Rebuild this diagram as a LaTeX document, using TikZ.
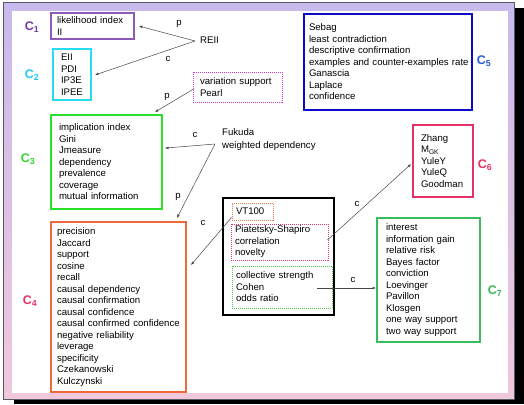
\documentclass[tikz,border=0pt]{standalone}
\usepackage{fontspec}
\setmainfont{Liberation Sans}
\usetikzlibrary{calc,arrows.meta}
\definecolor{lavtop}{RGB}{200,186,236}
\definecolor{pinkbot}{RGB}{240,200,220}
\definecolor{framegray}{RGB}{90,90,100}
\definecolor{linegray}{RGB}{70,70,70}
\definecolor{cpurple}{RGB}{140,90,185}
\definecolor{tpurple}{RGB}{115,60,160}
\definecolor{ccyan}{RGB}{40,220,240}
\definecolor{tcyan}{RGB}{30,200,245}
\definecolor{cgreen}{RGB}{40,225,40}
\definecolor{tgreen}{RGB}{50,210,50}
\definecolor{corange}{RGB}{238,105,60}
\definecolor{tred}{RGB}{228,50,100}
\definecolor{cblue}{RGB}{10,10,200}
\definecolor{tblue}{RGB}{40,90,215}
\definecolor{cgreen2}{RGB}{55,190,90}
\definecolor{tgreen2}{RGB}{55,185,85}
\definecolor{dmagenta}{RGB}{205,60,205}
\definecolor{dorange}{RGB}{232,125,70}
\definecolor{dred}{RGB}{222,55,105}
\definecolor{dgreen}{RGB}{70,205,70}
\tikzset{
  grp/.style={draw, line width=1.8pt, align=left, inner ysep=0pt,
    font=\fontsize{9.6}{11.5}\selectfont},
  sub/.style={grp, line width=0.8pt, dash pattern=on 1pt off 1pt},
  tag/.style={font=\fontsize{12.5}{14}\selectfont\bfseries, inner sep=0pt},
  lbl/.style={font=\fontsize{9.6}{11.5}\selectfont, inner sep=0pt},
  arr/.style={draw=linegray, line width=0.5pt, -{Latex[length=3.6pt,width=2.6pt]}}
}

\begin{document}
\begin{tikzpicture}[x=1pt,y=-1pt]
			%%%%% START %%%%%
			\useasboundingbox (0,0) rectangle (524,404);
			
			% frame and shadow
			\fill[black] (515,8) rectangle (524,404);
			\fill[black] (14,400) rectangle (524,404);
			\draw[draw=framegray, line width=1pt, top color=lavtop, bottom color=pinkbot] (3,3) rectangle (514,399);
			\fill[white] (12,11) rectangle (508,393);
			
			% groups
			\node[grp, draw=cpurple, line width=1.5pt, inner xsep=6pt, minimum width=83pt, minimum height=26pt, text width=71pt] (c1) at (92.5,26) {likelihood index\\II};
			\node[grp, draw=ccyan, inner xsep=8pt, minimum width=38pt, minimum height=51pt, text width=22pt] (c2) at (72,74.5) {EII\\PDI\\IP3E\\IPEE};
			\node[grp, draw=cgreen, inner xsep=8pt, minimum width=111pt, minimum height=94pt, text width=95pt] (c3) at (106.5,162) {implication index\\Gini\\Jmeasure\\dependency\\prevalence\\coverage\\mutual information};
			\node[grp, draw=corange, inner xsep=6pt, minimum width=135pt, minimum height=170pt, text width=123pt] (c4) at (118.5,307) {precision\\Jaccard\\support\\cosine\\recall\\causal dependency\\causal confirmation\\causal confidence\\causal confirmed confidence\\negative reliability\\leverage\\specificity\\Czekanowski\\Kulczynski};
			\node[grp, draw=cblue, inner xsep=5pt, minimum width=168pt, minimum height=96pt, text width=158pt] (c5) at (388,62) {Sebag\\least contradiction\\descriptive confirmation\\\mbox{examples and counter-examples rate}\\Ganascia\\Laplace\\confidence};
			\node[grp, draw=tred, inner xsep=8pt, minimum width=60pt, minimum height=72pt, text width=44pt] (c6) at (443,161) {Zhang\\M\textsubscript{GK}\\YuleY\\YuleQ\\Goodman};
			\node[grp, draw=cgreen2, inner xsep=9pt, minimum width=103pt, minimum height=124pt, text width=85pt] (c7) at (428.5,280) {interest\\information gain\\relative risk\\Bayes factor\\conviction\\Loevinger\\Pavillon\\Klosgen\\one way support\\two way support};
			
			% shared measures
			\node[sub, draw=dmagenta, inner xsep=7pt, minimum width=89pt, minimum height=30pt, text width=75pt] (pearl) at (237.5,87) {variation support\\Pearl};
			\node[draw=black, line width=2.6pt, minimum width=111pt, minimum height=117pt] (blk) at (278.5,256.5) {};
			\node[sub, draw=dorange, inner xsep=4pt, minimum width=41pt, minimum height=17pt, text width=33pt] (vt) at (252.5,211.5) {VT100};
			\node[sub, draw=dred, inner xsep=4pt, minimum width=97pt, minimum height=36pt, text width=89pt] (ps) at (279.5,242) {Piatetsky-Shapiro\\correlation\\novelty};
			\node[sub, draw=dgreen, inner xsep=4pt, minimum width=100pt, minimum height=42pt, text width=92pt] (cs) at (282,287) {collective strength\\Cohen\\odds ratio};
			
			\node[lbl, anchor=west] (reii) at (200,40) {REII};
			\node[lbl, anchor=west, align=left, font=\fontsize{9.6}{13}\selectfont] (fukuda) at (222,139.5) {Fukuda\\weighted dependency};
			
			% class tags
			\node[tag, text=tpurple] (t1) at (32,27) {C\textsubscript{1}};
			\node[tag, text=tcyan] (t2) at (32,75) {C\textsubscript{2}};
			\node[tag, text=tgreen] (t3) at (28,159) {C\textsubscript{3}};
			\node[tag, text=tred] (t4) at (30,301) {C\textsubscript{4}};
			\node[tag, text=tblue] (t5) at (484,61) {C\textsubscript{5}};
			\node[tag, text=tred] (t6) at (485,165) {C\textsubscript{6}};
			\node[tag, text=tgreen2] (t7) at (495,291) {C\textsubscript{7}};
			
			% links
			\coordinate (rs) at ($(reii.west)+(-5,1)$);
			\coordinate (fs) at ($(fukuda.west)+(-7,4.5)$);
			\draw[arr] (rs) -- ($(c1.east)+(4,0)$);
			\draw[arr] (rs) -- ($(c2.east)+(3,0.5)$);
			\draw[arr] ($(pearl.west)+(1,2)$) -- ($(c3.north east)+(-8,-2)$);
			\draw[arr] (fs) -- ($(c3.north east)+(2,34)$);
			\draw[arr] (fs) -- ($(c4.north east)+(-10,-3)$);
			\draw[arr] ($(vt.south west)+(0,-3)$) -- ($(c4.north east)+(4,44)$);
			\draw[arr] ($(ps.east)+(-1,-2)$) -- ($(c6.west)+(-1,3)$);
			\draw[arr] ($(cs.east)+(-15,1)$) -- ($(c7.west)+(0,8)$);
			
			\node[lbl] (lp1) at (179,24) {p};
			\node[lbl] (lc1) at (168,59) {c};
			\node[lbl] (lp2) at (167,97) {p};
			\node[lbl] (lc2) at (195,135) {c};
			\node[lbl] (lp3) at (178,197) {p};
			\node[lbl] (lc3) at (203,223) {c};
			\node[lbl] (lc4) at (357,204) {c};
			\node[lbl] (lc5) at (353,280) {c};
			%%%%% END %%%%%
\end{tikzpicture}
\end{document}
